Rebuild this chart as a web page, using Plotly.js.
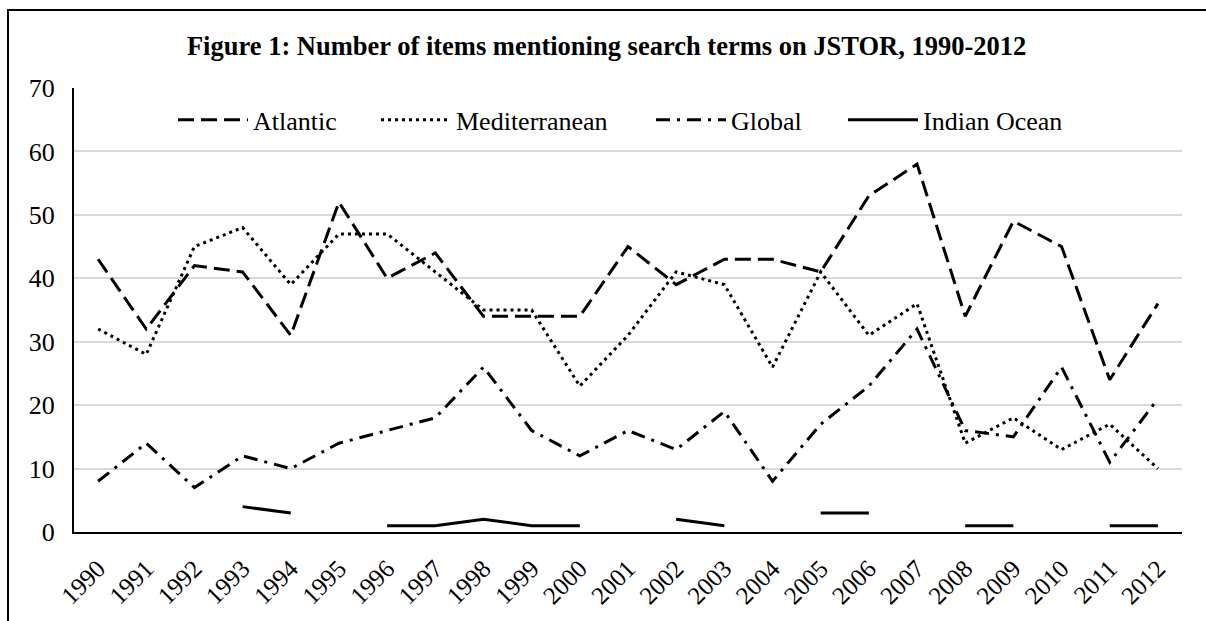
<!DOCTYPE html>
<html>
<head>
<meta charset="utf-8">
<script src="https://cdn.plot.ly/plotly-3.0.1.min.js"></script>
<style>
  html, body { margin: 0; padding: 0; background: #fff; overflow: hidden; }
  #chart { width: 1206px; height: 621px; }
</style>
</head>
<body>
<div id="chart"></div>
<script>
const years = ["1990","1991","1992","1993","1994","1995","1996","1997","1998","1999","2000","2001","2002","2003","2004","2005","2006","2007","2008","2009","2010","2011","2012"];
const atlantic      = [43, 32, 42, 41, 31, 52, 40, 44, 34, 34, 34, 45, 39, 43, 43, 41, 53, 58, 34, 49, 45, 24, 36];
const mediterranean = [32, 28, 45, 48, 39, 47, 47, 41, 35, 35, 23, 31, 41, 39, 26, 41, 31, 36, 14, 18, 13, 17, 10];
const global        = [8, 14, 7, 12, 10, 14, 16, 18, 26, 16, 12, 16, 13, 19, 8, 17, 23, 32, 16, 15, 26, 11, 21];
const indianOcean   = [null, null, null, 4, 3, null, 1, 1, 2, 1, 1, null, 2, 1, null, 3, 3, null, 1, 1, null, 1, 1];
const yTicks = [0, 10, 20, 30, 40, 50, 60, 70];

const serif = "'Liberation Serif', 'Times New Roman', serif";

function tr(name, y, dash, legendId) {
  return {
    type: "scatter", mode: "lines", name: name, x: years, y: y,
    connectgaps: false, legend: legendId,
    line: { color: "#000000", width: 3, dash: dash },
    hoverinfo: "skip"
  };
}

const data = [
  tr("Atlantic", atlantic, "16px,7px", "legend"),
  tr("Mediterranean", mediterranean, "3px,4px", "legend2"),
  tr("Global", global, "14px,7px,3px,7px", "legend3"),
  tr("Indian Ocean", indianOcean, "solid", "legend4")
];

const L = 74, W = 1108;
function leg(px) {
  return {
    orientation: "h", x: (px - L) / W, xanchor: "left", y: 0.928, yanchor: "middle",
    font: { family: serif, size: 26, color: "#000000" },
    bgcolor: "rgba(255,255,255,0)", itemwidth: 70, borderwidth: 0
  };
}

const layout = {
  width: 1206, height: 621,
  paper_bgcolor: "#ffffff", plot_bgcolor: "#ffffff",
  margin: { l: 74, r: 24, t: 88, b: 89 },
  font: { family: serif, color: "#000000", size: 24 },
  title: {
    text: "<b>Figure 1: Number of items mentioning search terms on JSTOR, 1990-2012</b>",
    font: { family: serif, size: 26.5, color: "#000000" },
    xref: "container", yref: "container",
    x: 0.503, xanchor: "center", y: 0.927, yanchor: "middle"
  },
  showlegend: true,
  legend: leg(173),
  legend2: leg(376),
  legend3: leg(651),
  legend4: leg(843),
  xaxis: {
    type: "category", tickvals: years, ticktext: years, range: [-0.5, 22.5],
    tickangle: -45, showgrid: false, zeroline: false,
    showline: true, linecolor: "#000000", linewidth: 2,
    ticks: "", tickfont: { family: serif, size: 25, color: "#000000" },
    ticklabelstandoff: 10, fixedrange: true
  },
  yaxis: {
    range: [0, 70], tickvals: yTicks, ticktext: yTicks.map(String),
    showgrid: true, gridcolor: "#d9d9d9", gridwidth: 2,
    zeroline: false, showline: true, linecolor: "#000000", linewidth: 2,
    ticks: "", tickfont: { family: serif, size: 26, color: "#000000" },
    ticklabelstandoff: 12, fixedrange: true
  },
  shapes: [{
    type: "rect", xref: "paper", yref: "paper",
    x0: (8 - 74) / 1108, x1: (1230 - 74) / 1108,
    y0: (532 - 640) / 444, y1: (532 - 10) / 444,
    line: { color: "#000000", width: 2 }, fillcolor: "rgba(0,0,0,0)", layer: "above"
  }]
};

Plotly.newPlot("chart", data, layout, { displayModeBar: false, staticPlot: true });
</script>
</body>
</html>
